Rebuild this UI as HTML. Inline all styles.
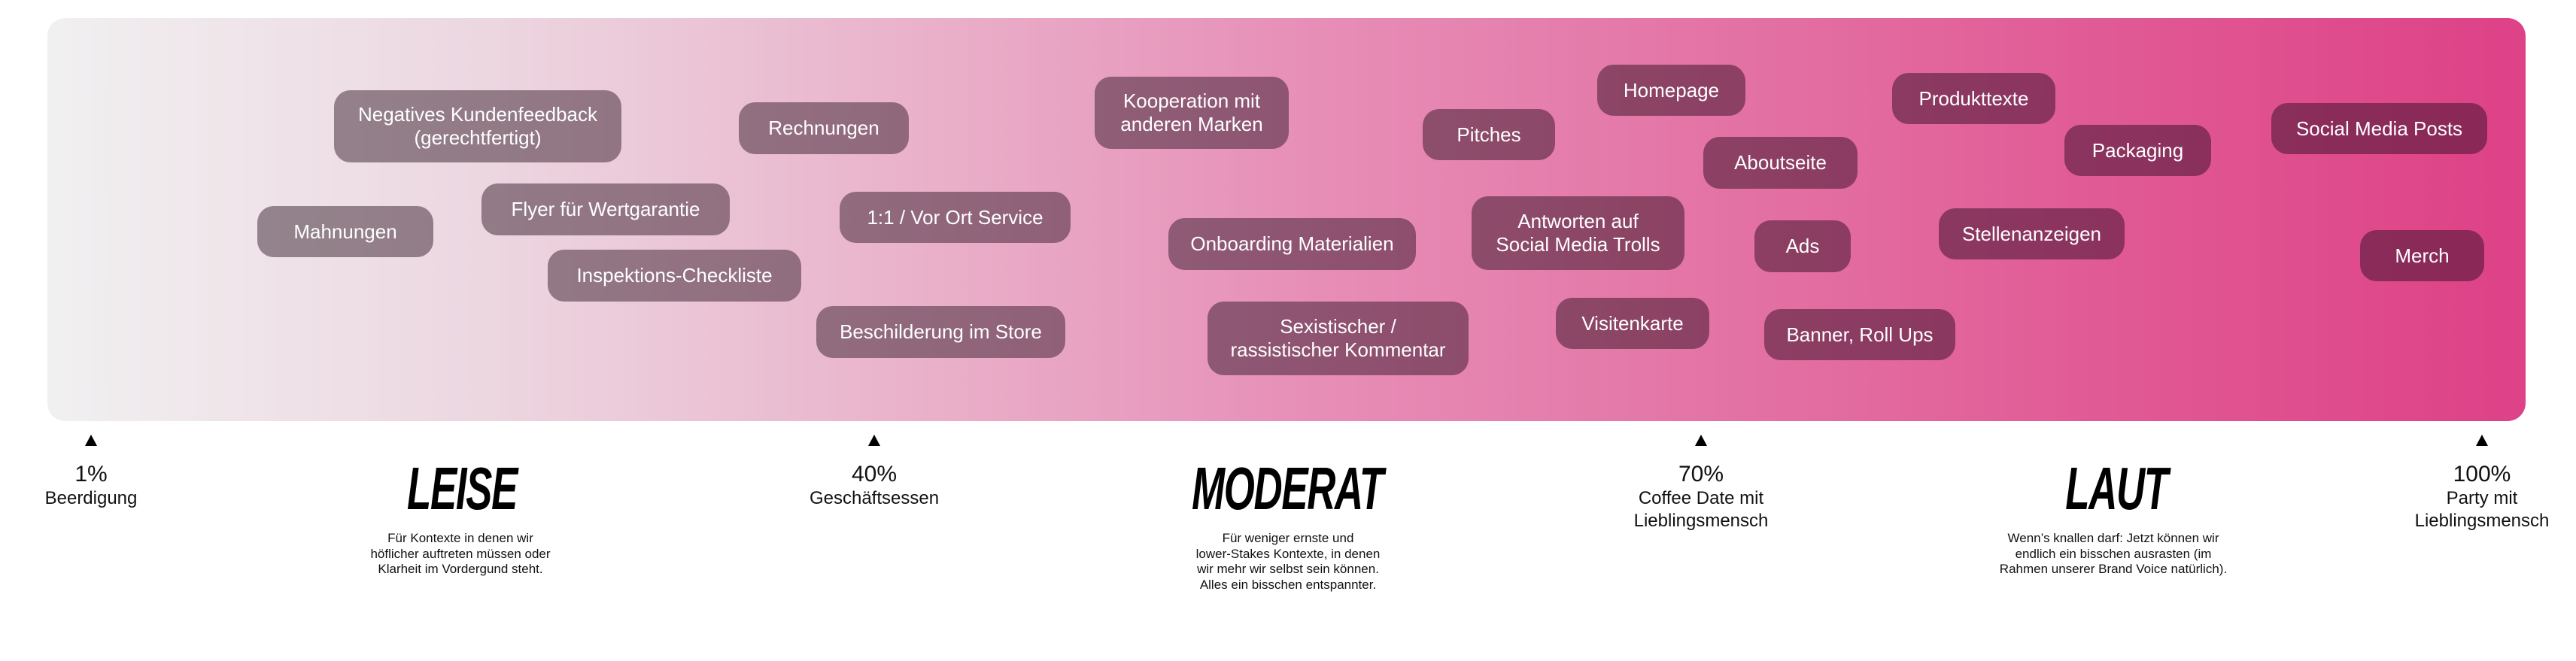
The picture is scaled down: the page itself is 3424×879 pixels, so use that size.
<!DOCTYPE html>
<html><head><meta charset="utf-8"><style>
*{margin:0;padding:0;box-sizing:border-box}
body{width:3424px;height:879px;background:#fff;position:relative;overflow:hidden;font-family:"Liberation Sans",sans-serif}
.panel{position:absolute;left:63px;top:24px;width:3294px;height:536px;border-radius:24px;
background:linear-gradient(to right,#f1f0f1 0%,#ecd6e0 18%,#eab6cd 33%,#e790b8 50%,#e36fa2 70%,#e05793 85%,#de4187 100%)}
.p{position:absolute;display:flex;align-items:center;justify-content:center;text-align:center;color:#fff;font-size:26px;line-height:31px;border-radius:22px;
background:linear-gradient(to right,#968b91 0px,#93828b 400px,#916c7e 1100px,#8e5572 1700px,#8c4364 2200px,#8b3560 2700px,#8a2756 3350px) fixed}
.tri{position:absolute;top:578px;width:0;height:0;border-left:8px solid transparent;border-right:8px solid transparent;border-bottom:15px solid #000;margin-left:-8px}
.pc{position:absolute;top:614px;width:300px;margin-left:-150px;text-align:center;color:#111}
.pc b{display:block;font-weight:normal;font-size:30px;line-height:34px}
.pc span{display:block;font-size:24px;line-height:30px}
.h{position:absolute;top:610px;width:400px;margin-left:-200px;text-align:center;font-family:"Liberation Sans Narrow","Liberation Sans",sans-serif;font-weight:bold;font-style:italic;font-size:80px;line-height:80px;color:#000;transform:scaleX(0.66);letter-spacing:-2px}
.d{position:absolute;top:706px;width:460px;margin-left:-230px;text-align:center;font-size:17px;line-height:20.5px;color:#111}
</style></head><body>
<div class="panel"></div>
<div class="p" style="left:444px;top:120px;width:382px;height:96px">Negatives Kundenfeedback<br>(gerechtfertigt)</div>
<div class="p" style="left:982px;top:136px;width:226px;height:69px">Rechnungen</div>
<div class="p" style="left:342px;top:274px;width:234px;height:68px">Mahnungen</div>
<div class="p" style="left:640px;top:244px;width:330px;height:69px">Flyer für Wertgarantie</div>
<div class="p" style="left:728px;top:332px;width:337px;height:69px">Inspektions-Checkliste</div>
<div class="p" style="left:1116px;top:255px;width:307px;height:68px">1:1 / Vor Ort Service</div>
<div class="p" style="left:1085px;top:407px;width:331px;height:69px">Beschilderung im Store</div>
<div class="p" style="left:1455px;top:102px;width:258px;height:96px">Kooperation mit<br>anderen Marken</div>
<div class="p" style="left:1553px;top:290px;width:329px;height:69px">Onboarding Materialien</div>
<div class="p" style="left:1605px;top:401px;width:347px;height:98px">Sexistischer /<br>rassistischer Kommentar</div>
<div class="p" style="left:1891px;top:145px;width:176px;height:68px">Pitches</div>
<div class="p" style="left:2123px;top:86px;width:197px;height:68px">Homepage</div>
<div class="p" style="left:1956px;top:261px;width:283px;height:98px">Antworten auf<br>Social Media Trolls</div>
<div class="p" style="left:2068px;top:396px;width:204px;height:68px">Visitenkarte</div>
<div class="p" style="left:2264px;top:182px;width:205px;height:69px">Aboutseite</div>
<div class="p" style="left:2332px;top:293px;width:128px;height:69px">Ads</div>
<div class="p" style="left:2345px;top:411px;width:254px;height:68px">Banner, Roll Ups</div>
<div class="p" style="left:2515px;top:97px;width:217px;height:68px">Produkttexte</div>
<div class="p" style="left:2744px;top:166px;width:195px;height:68px">Packaging</div>
<div class="p" style="left:2577px;top:277px;width:247px;height:68px">Stellenanzeigen</div>
<div class="p" style="left:3019px;top:137px;width:287px;height:68px">Social Media Posts</div>
<div class="p" style="left:3137px;top:306px;width:165px;height:68px">Merch</div>

<div class="tri" style="left:121px"></div>
<div class="tri" style="left:1162px"></div>
<div class="tri" style="left:2261px"></div>
<div class="tri" style="left:3299px"></div>

<div class="pc" style="left:121px"><b>1%</b><span>Beerdigung</span></div>
<div class="pc" style="left:1162px"><b>40%</b><span>Geschäftsessen</span></div>
<div class="pc" style="left:2261px"><b>70%</b><span>Coffee Date mit<br>Lieblingsmensch</span></div>
<div class="pc" style="left:3299px"><b>100%</b><span>Party mit<br>Lieblingsmensch</span></div>

<div class="h" style="left:614px">LEISE</div>
<div class="h" style="left:1711px">MODERAT</div>
<div class="h" style="left:2813px">LAUT</div>

<div class="d" style="left:612px">Für Kontexte in denen wir<br>höflicher auftreten müssen oder<br>Klarheit im Vordergund steht.</div>
<div class="d" style="left:1712px">Für weniger ernste und<br>lower-Stakes Kontexte, in denen<br>wir mehr wir selbst sein können.<br>Alles ein bisschen entspannter.</div>
<div class="d" style="left:2809px">Wenn’s knallen darf: Jetzt können wir<br>endlich ein bisschen ausrasten (im<br>Rahmen unserer Brand Voice natürlich).</div>
</body></html>
